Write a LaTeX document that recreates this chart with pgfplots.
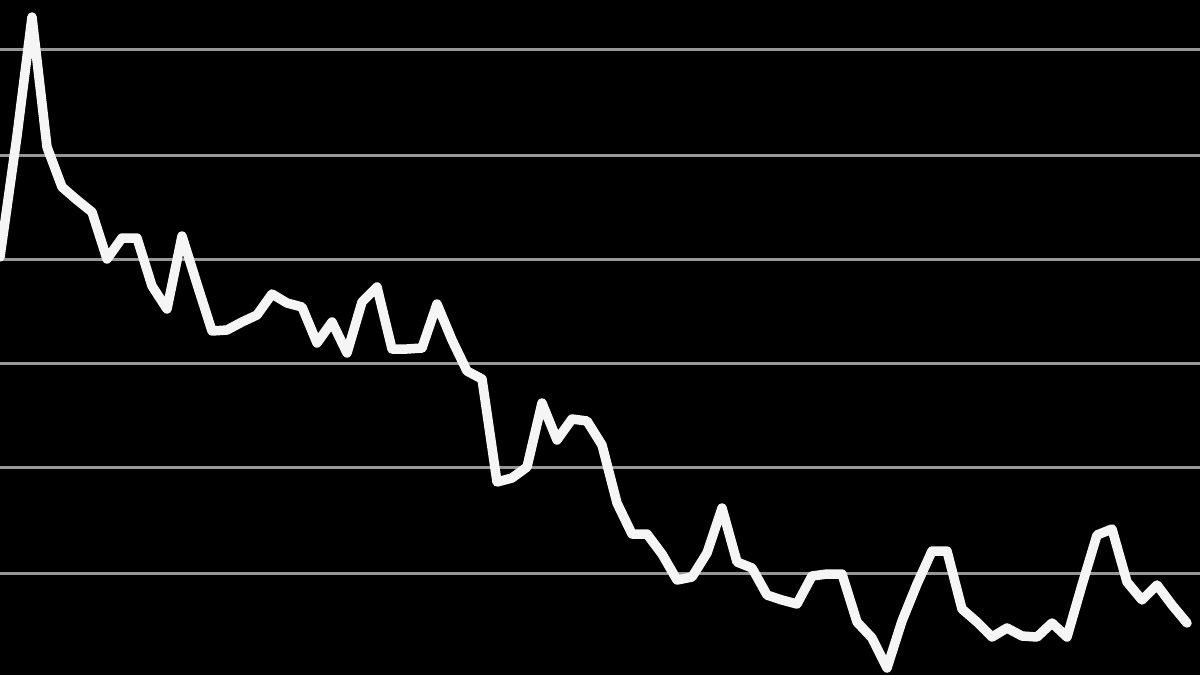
\documentclass[border=0pt]{standalone}
\usepackage{pgfplots}
\pgfplotsset{compat=1.18}
\usepackage{pgfplotstable}
\pgfplotstableread{
x y
0 257
17 136
32 17
47 147
62 187
77 200
92 212
107 259
122 238
137 238
152 286
167 309
182 236
197 284
212 331
227 330
242 322
257 315
272 294
287 303
302 307
317 343
332 322
347 353
362 302
377 287
392 349
407 349
422 348
437 304
452 340
467 371
482 379
497 482
512 478
527 467
542 403
557 440
572 419
587 421
602 445
617 503
632 534
647 534
662 554
677 580
692 577
707 553
722 508
737 562
752 568
767 595
782 600
797 604
812 576
827 574
842 574
857 622
872 638
887 668
902 621
917 584
932 551
947 551
962 609
977 622
992 637
1007 628
1022 636
1037 637
1052 623
1067 637
1082 585
1097 535
1112 529
1127 582
1142 600
1157 585
1172 605
1187 623
}\series
\definecolor{gridcol}{RGB}{150,150,150}
\definecolor{linecol}{RGB}{245,245,245}
\begin{document}
\begin{tikzpicture}
\begin{axis}[
  name=ax,
  width=1200bp, height=675bp, scale only axis,
  xmin=0, xmax=1200, ymin=0, ymax=675, y dir=reverse,
  axis line style={draw=none},
  tick style={draw=none},
  axis background/.style={fill=black},
  ytick={49.3,155.3,259.3,363.3,467.5,573},
  xtick=\empty,
  yticklabels={},
  ymajorgrids,
  grid style={gridcol, line width=3bp},
  major tick length=0pt,
  clip=true,
]
\addplot[linecol, line width=9.5bp, line join=round, line cap=round] table[x=x,y=y] {\series};
\end{axis}
\pgfresetboundingbox
\path (ax.south west) rectangle (ax.north east);
\end{tikzpicture}
\end{document}
